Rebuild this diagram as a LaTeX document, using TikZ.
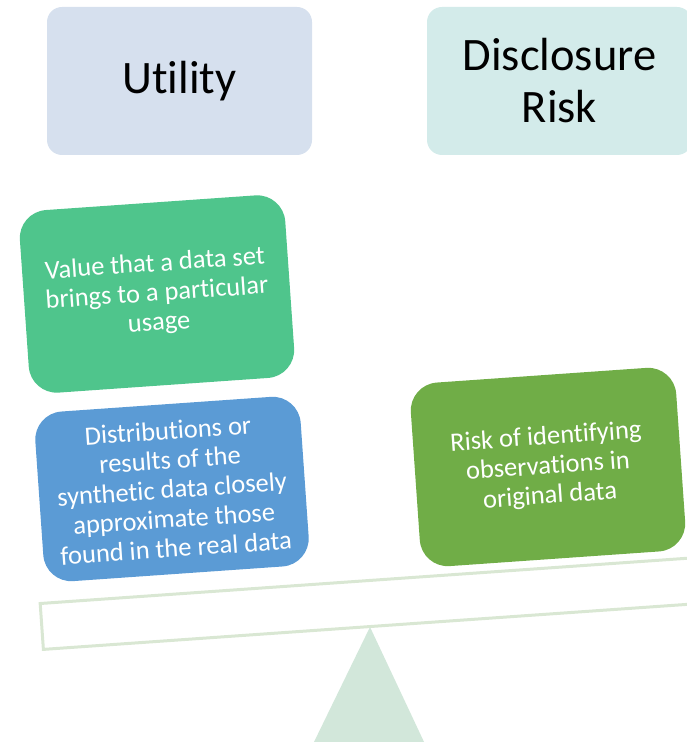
\documentclass[tikz,border=0pt]{standalone}
\usepackage{fontspec}
\setmainfont{Carlito}[Ligatures={NoCommon}]
\usetikzlibrary{positioning}

\definecolor{utilblue}{HTML}{D6E0EE}
\definecolor{riskteal}{HTML}{D3EBEA}
\definecolor{valgreen}{HTML}{4FC58C}
\definecolor{distblue}{HTML}{5B9BD5}
\definecolor{riskgreen}{HTML}{70AD47}
\definecolor{beamgreen}{HTML}{D9E7D3}
\definecolor{pivotgreen}{HTML}{D2E7DA}

\begin{document}
\begin{tikzpicture}[x=1pt, y=1pt,
	headbox/.style={fill=#1, rounded corners=15pt, minimum width=265pt, minimum height=148pt,
		inner sep=0pt, align=center, font=\fontsize{46.5}{52}\selectfont},
	weightbox/.style={fill=#1, text=white, rounded corners=28pt, rotate=4, minimum width=266pt,
		inner sep=0pt, align=center, font=\fontsize{26.5}{29.5}\selectfont}]
	\useasboundingbox (0,0) rectangle (687,742);
	\clip (0,0) rectangle (687,742);

	% seesaw
	\node[draw=beamgreen, line width=3pt, rotate=4, anchor=south west, minimum width=720pt, minimum height=46pt, inner sep=0pt] (beam) at (42,91) {};
	\fill[pivotgreen] (370,115) -- (425,-2) -- (313,-2) -- cycle;

	% headings
	\node[headbox=utilblue] (utility) at (179.5,661) {Utility};
	\node[headbox=riskteal] (disclosure) at (559.5,661) {Disclosure\\Risk};

	% weights on the beam
	\node[weightbox=valgreen, minimum height=183pt] (value) at (157,448) {Value that a data set\\brings to a particular\\usage};
	\node[weightbox=distblue, minimum height=170pt] (distrib) at (172,253) {Distributions or\\results of the\\synthetic data closely\\approximate those\\found in the real data};
	\node[weightbox=riskgreen, minimum height=184pt] (identify) at (548,275) {Risk of identifying\\observations in\\original data};
\end{tikzpicture}
\end{document}
